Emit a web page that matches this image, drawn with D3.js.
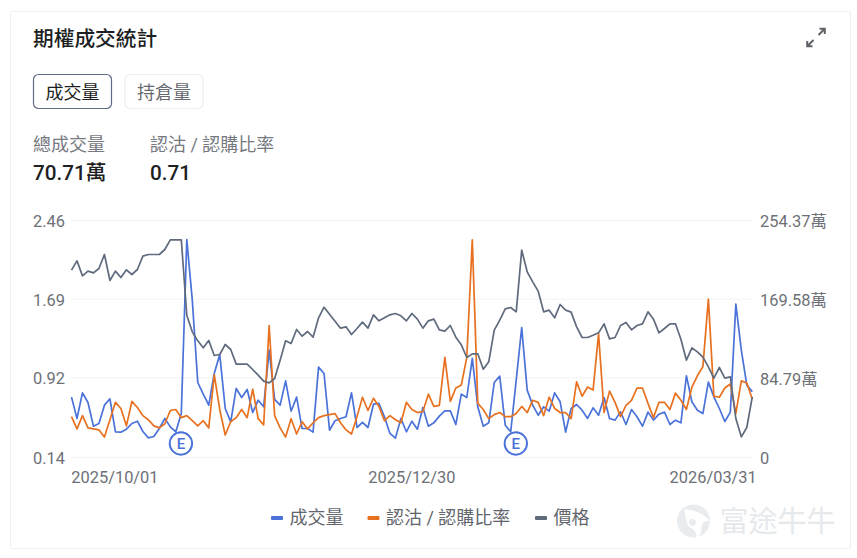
<!DOCTYPE html>
<html lang="zh-Hant">
<head>
<meta charset="utf-8">
<title>期權成交統計</title>
<script src="https://cdn.jsdelivr.net/npm/d3@7/dist/d3.min.js"></script>
<style>
  html, body { margin: 0; padding: 0; background: #fff; }
  svg { display: block; }
  text { font-family: Roboto, "Noto Sans CJK TC", sans-serif; }
</style>
</head>
<body>
<svg id="chart" width="857" height="558"></svg>
<script>
// Daily option volume (萬 contracts), put/call ratio and underlying price.
const volume = [
  64.8,41.9,69.4,59.0,33.6,36.5,56.2,63.0,27.6,27.2,30.4,36.5,39.0,27.9,21.1,22.5,31.1,41.9,32.9,27.6,
  47.2,234.0,168.9,80.5,68.0,56.2,90.2,110.6,52.6,38.3,74.1,64.4,73.0,48.3,61.5,54.4,115.2,62.3,56.2,82.3,
  49.7,64.8,31.1,31.1,27.2,97.0,90.2,29.3,39.4,41.9,43.7,69.4,32.2,37.6,32.2,57.2,58.0,43.7,25.8,20.8,
  41.9,27.6,39.0,30.4,53.7,33.6,37.2,44.4,50.1,50.1,35.4,68.0,64.4,106.3,54.4,33.6,37.2,80.5,87.3,34.7,
  27.6,83.0,139.5,72.3,56.2,45.4,54.4,49.7,69.4,59.8,27.2,52.6,56.9,50.8,41.9,53.3,45.4,64.4,41.9,40.1,
  49.0,35.4,51.5,43.7,33.6,48.7,40.1,46.5,48.7,35.4,40.1,37.2,87.7,59.8,50.8,47.2,80.9,65.1,52.6,38.6,
  48.7,164.6,115.2,77.6,70.71
];
const putCallRatio = [
  0.54,0.42,0.55,0.43,0.42,0.41,0.34,0.51,0.68,0.62,0.45,0.69,0.63,0.55,0.51,0.45,0.43,0.47,0.60,0.61,
  0.53,0.55,0.50,0.45,0.50,0.43,0.95,0.61,0.36,0.49,0.53,0.61,0.53,0.81,0.52,0.46,1.43,0.55,0.43,0.34,
  0.52,0.37,0.49,0.42,0.48,0.53,0.55,0.56,0.57,0.48,0.41,0.37,0.54,0.73,0.60,0.72,0.64,0.50,0.55,0.51,
  0.48,0.68,0.61,0.58,0.59,0.76,0.64,0.65,1.12,0.69,0.82,0.85,1.12,2.27,0.67,0.61,0.52,0.56,0.58,0.54,
  0.54,0.57,0.64,0.58,0.70,0.68,0.55,0.73,0.62,0.58,0.58,0.52,0.88,0.74,0.83,0.80,1.35,0.58,0.79,0.68,
  0.54,0.65,0.70,0.82,0.82,0.67,0.53,0.68,0.68,0.61,0.77,0.70,0.61,0.83,0.94,1.03,1.69,0.74,0.73,0.82,
  0.86,0.57,0.89,0.87,0.71
];
const price = [
  56.2,59.0,54.5,55.9,55.4,56.7,60.9,53.1,55.9,54.0,56.3,54.9,56.4,60.4,60.9,60.9,60.9,62.4,65.3,65.3,
  65.3,42.7,37.7,35.0,32.9,35.1,30.6,30.9,33.9,32.4,28.0,28.0,28.0,26.4,24.7,22.9,22.4,23.7,29.2,35.0,
  34.2,38.4,36.4,37.8,36.1,41.9,45.1,43.0,40.9,38.8,39.2,36.9,38.7,40.6,38.8,42.8,41.0,41.9,42.8,43.2,
  42.5,41.0,43.2,41.5,38.8,41.0,41.5,38.3,37.9,39.6,36.1,33.8,30.0,31.1,31.1,26.5,28.7,38.2,41.2,44.6,
  45.0,43.7,62.2,55.7,52.7,49.9,43.7,44.2,41.9,45.9,44.2,43.6,39.2,36.0,36.0,36.7,37.4,40.1,35.6,36.0,
  39.6,40.5,38.3,39.6,40.1,43.7,41.5,37.4,38.7,40.1,40.1,35.5,29.2,32.9,31.7,30.1,27.2,23.8,27.0,23.8,
  24.2,11.7,6.2,9.0,18.2
];

const leftTicks = [0.14, 0.92, 1.69, 2.46];
const rightTicks = [0, 84.79, 169.58, 254.37];
const rightTickLabels = ["0", "84.79萬", "169.58萬", "254.37萬"];
const dateTicks = [0, 62, 124];
const dateLabels = ["2025/10/01", "2025/12/30", "2026/03/31"];
const earningsDays = [20, 81];
const legendNames = ["成交量", "認沽 / 認購比率", "價格"];
const palette = { volume: "#4a72d9", ratio: "#e8711f", price: "#5f6b7d" };

const svg = d3.select("#chart");
const plotTop = 220.5, plotBottom = 457.5;

const x = d3.scaleLinear().domain([0, volume.length - 1]).range([71.5, 752.3]);
const yRatio = d3.scaleLinear().domain([0.14, 2.46]).range([plotBottom, plotTop]);
const yVolume = d3.scaleLinear().domain([0, 254.37]).range([plotBottom, plotTop]);
const yPrice = d3.scaleLinear().domain([0, 71.1]).range([plotBottom, plotTop]);

// Card frame
svg.append("rect")
  .attr("x", 10.5).attr("y", 11.5).attr("width", 840).attr("height", 537)
  .attr("rx", 2).attr("fill", "#fff").attr("stroke", "#eeeff1");

// Header
svg.append("text").attr("x", 33).attr("y", 45.5)
  .attr("font-size", 20.7).attr("font-weight", 500).attr("fill", "#1d1f23")
  .text("期權成交統計");

// Expand icon
const expand = svg.append("g").attr("transform", "translate(816,37.5)")
  .attr("fill", "none").attr("stroke", "#5f6368").attr("stroke-width", 2);
expand.append("path").attr("d", "M2.5,-2.5L8,-8M3.5,-8.8H8.8V-3.5");
expand.append("path").attr("d", "M-2.5,2.5L-8,8M-3.5,8.8H-8.8V3.5");

// Toggle buttons
const buttons = [
  { x: 33.5, label: "成交量", stroke: "#5e6c86", fill: "#1d1f23" },
  { x: 125, label: "持倉量", stroke: "#eceef0", fill: "#666a70" }
];
buttons.forEach(b => {
  svg.append("rect").attr("x", b.x).attr("y", 74.5).attr("width", 78).attr("height", 34)
    .attr("rx", 5).attr("fill", "#fff").attr("stroke", b.stroke).attr("stroke-width", 1.2);
  svg.append("text").attr("x", b.x + 39).attr("y", 98.5).attr("text-anchor", "middle")
    .attr("font-size", 18).attr("fill", b.fill).text(b.label);
});

// Summary figures
const summary = [
  { x: 33, label: "總成交量", value: "70.71萬" },
  { x: 150, label: "認沽 / 認購比率", value: "0.71" }
];
summary.forEach(s => {
  svg.append("text").attr("x", s.x).attr("y", 151).attr("font-size", 18)
    .attr("fill", "#76797f").text(s.label);
  svg.append("text").attr("x", s.x).attr("y", 180).attr("font-size", 20.7)
    .attr("font-weight", 500).attr("fill", "#1d1f23").text(s.value);
});

// Horizontal grid
svg.append("g").selectAll("line").data(leftTicks).join("line")
  .attr("x1", 71).attr("x2", 752)
  .attr("y1", d => yRatio(d)).attr("y2", d => yRatio(d))
  .attr("stroke", "#f2f3f5").attr("stroke-width", 1);

// Axes: only the labels are visible
function cleanAxis(g) {
  g.select(".domain").remove();
  g.selectAll(".tick line").remove();
  g.selectAll("text").attr("fill", "#6d7076").attr("font-size", 16.4)
    .attr("font-family", 'Roboto, "Noto Sans CJK TC", sans-serif');
}

svg.append("g").attr("transform", "translate(33,0.5)")
  .call(d3.axisLeft(yRatio).tickValues(leftTicks).tickFormat(d3.format(".2f")).tickSize(0).tickPadding(0))
  .call(cleanAxis)
  .selectAll("text").attr("text-anchor", "start").attr("dy", "0.34em");

svg.append("g").attr("transform", "translate(760,0.5)")
  .call(d3.axisRight(yVolume).tickValues(rightTicks)
    .tickFormat((d, i) => rightTickLabels[i]).tickSize(0).tickPadding(0))
  .call(cleanAxis)
  .selectAll("text").attr("dy", "0.34em");

const xAxis = svg.append("g").attr("transform", "translate(0,477)")
  .call(d3.axisBottom(x).tickValues(dateTicks)
    .tickFormat((d, i) => dateLabels[i]).tickSize(0).tickPadding(0))
  .call(cleanAxis);
xAxis.selectAll("text")
  .attr("dy", "0.34em")
  .attr("text-anchor", (d, i) => i === 0 ? "start" : i === 2 ? "end" : "middle")
  .attr("dx", (d, i) => i === 0 ? -0.7 : i === 2 ? 4 : -0.5);

// Series lines
const lineOf = scale => d3.line().x((d, i) => x(i)).y(d => scale(d));
const series = [
  { values: volume, scale: yVolume, color: palette.volume },
  { values: putCallRatio, scale: yRatio, color: palette.ratio },
  { values: price, scale: yPrice, color: palette.price }
];
svg.append("g").selectAll("path").data(series).join("path")
  .attr("d", s => lineOf(s.scale)(s.values))
  .attr("fill", "none")
  .attr("stroke", s => s.color)
  .attr("stroke-width", 1.7)
  .attr("stroke-linejoin", "round");

// Earnings markers
const marker = svg.append("g").selectAll("g").data(earningsDays).join("g")
  .attr("transform", d => `translate(${x(d) - 0.4},443.5)`);
marker.append("circle").attr("r", 11.2).attr("fill", "#fff")
  .attr("stroke", palette.volume).attr("stroke-width", 1.9);
marker.append("text").attr("text-anchor", "middle").attr("dy", "0.36em")
  .attr("font-size", 15).attr("font-weight", 500).attr("fill", palette.volume).text("E");

// Legend
const legendX = [271, 367.5, 535];
const legendColors = [palette.volume, palette.ratio, palette.price];
const legend = svg.append("g").selectAll("g").data(legendNames).join("g")
  .attr("transform", (d, i) => `translate(${legendX[i]},518)`);
legend.append("rect").attr("y", -2).attr("width", 12).attr("height", 4).attr("rx", 1)
  .attr("fill", (d, i) => legendColors[i]);
legend.append("text").attr("x", 18.5).attr("dy", "0.36em").attr("font-size", 18)
  .attr("fill", "#63666c").text(d => d);

// Brand watermark
const mark = svg.append("g").attr("transform", "translate(693.5,521)");
mark.append("circle").attr("r", 16.5).attr("fill", "#e9ecef");
mark.append("path")
  .attr("d", "M-9,-12C-2,-11 9,-9 17,0C10,-1 8,3 8,8C8,12 6,15 3,17.5C3,12 2,9 -3,7C-7,4 -8,-4 -9,-12Z")
  .attr("fill", "#fff");
mark.append("circle").attr("cx", -1).attr("cy", 1.5).attr("r", 3.4).attr("fill", "#e9ecef");
svg.append("text").attr("x", 719.5).attr("y", 532).attr("font-size", 29)
  .attr("font-weight", 400).attr("fill", "#e6e9ec").text("富途牛牛");
</script>
</body>
</html>
